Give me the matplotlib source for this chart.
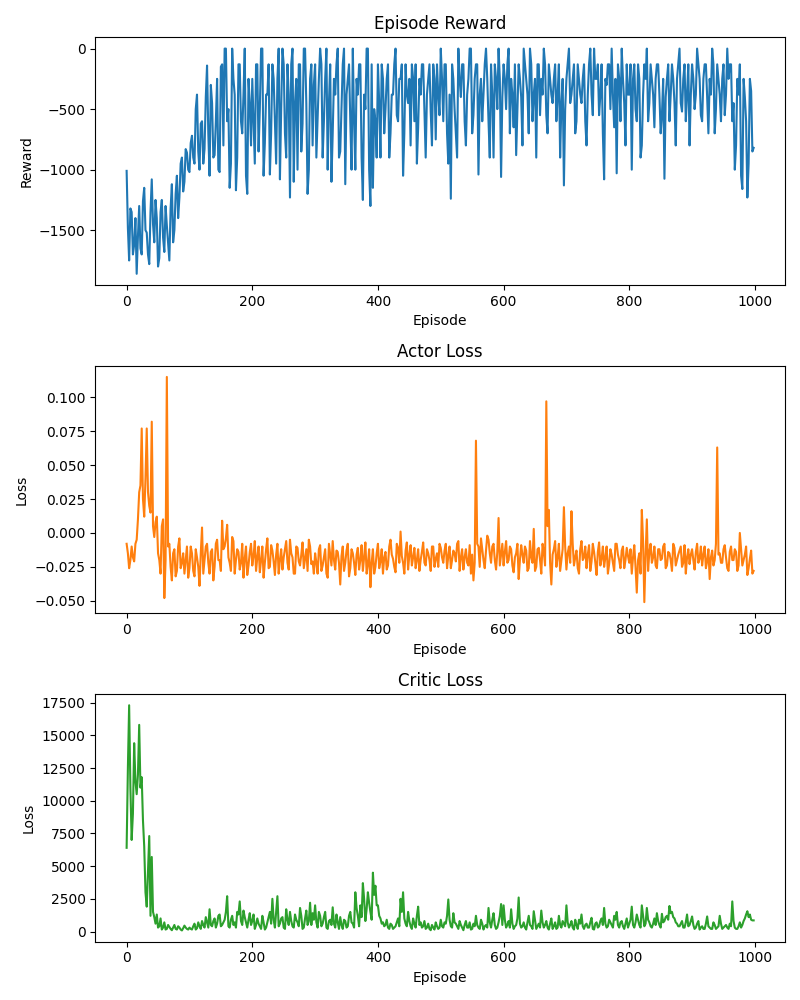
import numpy as np
import matplotlib
matplotlib.use("Agg")
import matplotlib.pyplot as plt

# values every 2 episodes:
# *_a lists hold episodes 0, 4, 8, ... and *_b lists hold episodes 2, 6, 10, ...
episodes = np.arange(0, 1000, 2)

rewards_a = [
    -1010, -1750, -1350, -1620, -1860, -1300, -1700, -1150, -1520, -1780, -1080, -1600, -1400,
    -1730, -1250, -1680, -1460, -1750, -1120, -1500, -1050, -1230, -900, -1100, -860,
    -1020, -720, -950, -380, -1000, -600, -830, -140, -1050, -450, -880, -250, -1020,
    -130, 0, -600, -1150, 0, -380, -900, -130, -700, 0, -1200, -450,
    -250, -950, -130, -500, 0, -780, -380, -1040, -130, -600, -250, -1080, 0,
    -700, -130, -1230, 0, -450, -1000, -130, -620, 0, -1200, -250, -800,
    -130, -560, 0, -900, -250, -1000, -130, -700, -380, 0, -850, -130, -1120,
    -250, -600, 0, -1000, -380, -130, -1250, -500, 0, -1300, -1150, -600,
    -130, -900, -250, -500, -130, -700, -380, 0, -600, -250, -1050, -130, -450,
    -800, -250, -130, -650, -380, -130, -900, -250, -520, -130, -750, -380,
    0, -600, -130, -950, -1240, -250, -700, 0, -400, -130, -800, -250, 0,
    -550, -130, -1040, -250, -380, 0, -600, -130, -900, -250, 0, -1060,
    -130, -500, 0, -250, -650, -880, -130, -400, 0, -250, -700, -130, -380,
    -900, -130, -250, 0, -550, -130, -380, -250, -600, -130, -450, -1130,
    -250, 0, -380, -130, -600, -250, -450, -130, -800, -130, -380, 0, -250,
    -550, -130, -1080, -300, -130, 0, -650, -1030, -250, 0, -450, -130,
    -380, -1000, -130, -600, -250, -800, -130, 0, -450, -250, -650, -130, -380,
    -550, -1075, -250, -600, -130, -450, -250, 0, -520, -130, -380, -800,
    -130, -500, 0, -250, -600, -130, -400, -250, 0, -700, -130, -380, -250,
    -550, 0, -130, -600, -1000, -250, -130, -1160, -400, -1230, -250, -850,
]
rewards_b = [
    -1480, -1320, -1700, -1400, -1550, -1650, -1260, -1500, -1700, -1350, -1450, -1250, -1800,
    -1350, -1560, -1300, -1600, -1320, -1600, -1200, -1400, -950, -1180, -830, -1000,
    -780, -900, -500, -850, -620, -950, -400, -700, -300, -900, -600, -1000, -150,
    -800, 0, -500, -950, -250, -1170, -130, -600, -380, -1050, -250, -800,
    -600, -130, -850, 0, -1050, -380, -130, -700, -250, -950, 0, -500, -130,
    -900, -380, -130, -1100, -250, -130, -850, 0, -450, -1000, -130, -300,
    -900, -250, -130, -600, 0, -450, -1100, -250, -130, -900, -500, 0, -380,
    -130, -1000, -600, -250, -130, -900, -380, 0, -1000, -130, -500, -900,
    -450, -130, -700, -250, -900, -380, -130, -550, -250, -130, -700, -380, -250,
    -130, -600, -950, -250, -130, -500, -380, -130, -800, -250, -130, -550,
    -250, -130, -700, -380, -130, -500, -900, -250, -130, -600, -380, 0, -700,
    -250, -130, -380, -600, -130, -250, -900, -380, -130, -500, -250, -400,
    -250, -130, -700, -380, -130, -500, -250, -800, -130, -380, 0, -600, -250,
    -130, -550, -380, -130, -700, -250, -450, -130, -380, -900, -250, -500,
    -130, -450, -250, -700, -130, -380, -250, -600, -380, 0, -550, -250, -130,
    -380, -700, -250, -130, -500, -380, -250, -130, -600, -250, -800, -380,
    -130, -250, -500, -130, -900, -380, -250, -600, -130, -380, -250, -130, -700,
    -250, -400, -130, -380, -250, -800, -130, -450, -250, -600, -130, -380,
    -250, -380, -130, -550, -250, -130, -700, -380, -130, -500, -250, -600, -130,
    -380, -250, -130, -450, -800, -380, -1050, -250, -600, -950, -350, -820,
]

actor_loss_a = [
    -0.008, -0.026, -0.010, -0.021, -0.005, 0.030, 0.077, 0.012, 0.077, 0.020, 0.082, -0.003, 0.012,
    -0.020, 0.005, -0.048, 0.115, -0.008, -0.035, -0.012, -0.028, -0.004, -0.022, -0.030, -0.010,
    -0.026, -0.015, -0.032, -0.018, -0.039, 0.004, -0.020, -0.008, -0.030, -0.012, -0.025, -0.005, -0.020,
    0.009, -0.010, 0.006, -0.022, -0.003, -0.030, -0.012, -0.027, -0.008, -0.019, -0.031, -0.014,
    -0.024, -0.006, -0.018, -0.029, -0.010, -0.022, -0.004, -0.025, -0.013, -0.031, -0.008, -0.020, -0.027,
    -0.012, -0.022, -0.005, -0.018, -0.030, -0.011, -0.024, -0.007, -0.019, -0.028, -0.010, -0.021,
    -0.015, -0.030, -0.009, -0.024, -0.012, -0.033, -0.016, -0.006, -0.027, -0.014, -0.038, -0.010, -0.022,
    -0.008, -0.026, -0.015, -0.031, -0.011, -0.020, -0.028, -0.007, -0.023, -0.040, -0.012, -0.025,
    -0.008, -0.021, -0.030, -0.014, -0.024, -0.005, -0.019, -0.029, -0.011, 0.001, -0.022, -0.013, -0.027,
    -0.009, -0.018, -0.026, -0.012, -0.020, -0.007, -0.024, -0.015, -0.028, -0.010, -0.019, -0.025,
    -0.011, -0.022, -0.008, -0.017, -0.026, -0.013, -0.021, -0.006, -0.018, -0.027, -0.012, -0.024, -0.030,
    -0.035, 0.068, -0.010, -0.004, -0.020, -0.013, -0.005, -0.022, -0.008, -0.027, 0.011, -0.016,
    -0.024, -0.006, -0.020, -0.012, -0.029, -0.015, -0.034, -0.009, -0.022, -0.013, -0.026, -0.018, 0.003,
    -0.025, -0.011, -0.030, -0.014, 0.097, 0.017, -0.038, -0.012, -0.025, -0.008, -0.020, 0.019,
    -0.027, -0.010, 0.016, -0.024, -0.013, -0.030, -0.006, -0.018, -0.026, -0.009, -0.021, -0.014, -0.031,
    -0.007, -0.019, -0.025, -0.010, -0.023, -0.016, -0.028, -0.008, -0.020, -0.013, -0.026, -0.011,
    -0.022, -0.030, -0.009, -0.044, -0.015, 0.017, -0.051, 0.010, -0.014, -0.022, -0.010, -0.026, -0.012,
    -0.019, -0.008, -0.024, -0.015, -0.028, -0.011, -0.020, -0.013, -0.025, -0.009, -0.018, -0.023,
    -0.012, -0.027, -0.008, -0.019, -0.024, -0.010, -0.021, -0.034, -0.013, -0.020, 0.063, -0.015, -0.022,
    -0.009, -0.026, -0.014, -0.020, -0.012, -0.028, 0.000, -0.024, -0.016, -0.031, -0.019, -0.030,
]
actor_loss_b = [
    -0.015, -0.020, -0.018, -0.008, 0.010, 0.035, 0.025, 0.040, 0.030, 0.015, 0.005, 0.008, -0.015,
    -0.030, 0.010, -0.020, -0.010, -0.025, -0.015, -0.032, -0.010, -0.026, -0.015, -0.020, -0.033,
    -0.010, -0.028, -0.012, -0.025, -0.015, -0.030, -0.010, -0.022, -0.014, -0.035, -0.008, -0.020, -0.028,
    -0.012, -0.004, -0.018, -0.028, -0.006, -0.020, -0.014, -0.022, -0.033, -0.010, -0.024, -0.008,
    -0.017, -0.028, -0.010, -0.020, -0.033, -0.012, -0.026, -0.009, -0.021, -0.016, -0.030, -0.012, -0.018,
    -0.006, -0.027, -0.015, -0.030, -0.010, -0.021, -0.016, -0.026, -0.012, -0.005, -0.023, -0.030,
    -0.022, -0.012, -0.028, -0.018, -0.030, -0.008, -0.024, -0.020, -0.013, -0.022, -0.017, -0.028, -0.013,
    -0.032, -0.012, -0.022, -0.016, -0.027, -0.009, -0.018, -0.030, -0.012, -0.022, -0.030, -0.015,
    -0.026, -0.012, -0.018, -0.027, -0.010, -0.016, -0.025, -0.008, -0.022, -0.017, -0.030, -0.007, -0.016,
    -0.024, -0.011, -0.020, -0.028, -0.014, -0.022, -0.012, -0.020, -0.010, -0.025, -0.015, -0.008,
    -0.018, -0.013, -0.026, -0.010, -0.020, -0.015, -0.008, -0.028, -0.012, -0.018, -0.022, -0.009, -0.016,
    -0.022, -0.008, -0.025, -0.012, -0.026, -0.002, -0.015, -0.010, -0.020, -0.014, -0.024, -0.008,
    -0.014, -0.022, -0.010, -0.024, -0.018, -0.008, -0.020, -0.016, -0.010, -0.028, -0.006, -0.022, -0.028,
    -0.012, -0.020, -0.008, -0.024, 0.005, -0.022, -0.016, -0.006, -0.018, -0.028, -0.012, -0.010,
    -0.015, -0.022, -0.008, -0.018, -0.026, -0.012, -0.020, -0.010, -0.016, -0.028, -0.008, -0.022, -0.014,
    -0.024, -0.010, -0.018, -0.030, -0.012, -0.022, -0.008, -0.016, -0.026, -0.010, -0.020, -0.017,
    -0.012, -0.018, -0.025, -0.020, -0.030, -0.006, -0.016, -0.028, -0.008, -0.018, -0.024, -0.012, -0.020,
    -0.010, -0.026, -0.014, -0.020, -0.008, -0.024, -0.016, -0.010, -0.022, -0.030, -0.012, -0.016,
    -0.020, -0.014, -0.022, -0.010, -0.016, -0.026, -0.012, -0.018, -0.024, -0.008, -0.016, -0.022, -0.012,
    -0.018, -0.028, -0.010, -0.020, -0.014, -0.024, -0.012, -0.020, -0.010, -0.026, -0.013, -0.028,
]

critic_loss_a = [
    6400, 17300, 7000, 14400, 10500, 15800, 11800, 6500, 1900, 7300, 5700, 1100, 1300,
    400, 150, 700, 200, 350, 100, 500, 150, 300, 80, 450, 200,
    300, 150, 600, 250, 400, 800, 300, 700, 1700, 400, 1000, 600, 1300,
    500, 900, 2700, 300, 1200, 700, 1500, 2300, 500, 1100, 300, 1400,
    800, 200, 1000, 400, 1200, 150, 700, 1500, 2500, 300, 2700, 600, 1100,
    200, 900, 1500, 400, 1300, 700, 1800, 200, 1000, 500, 2200, 1400,
    2000, 300, 1200, 600, 1500, 200, 900, 1850, 300, 700, 1100, 200, 800,
    400, 1500, 600, 3000, 1200, 2000, 3700, 800, 3000, 1500, 4500, 3500,
    2000, 1000, 700, 500, 300, 600, 200, 400, 1000, 2500, 3000, 600, 1500,
    400, 1000, 300, 1900, 700, 400, 200, 600, 100, 300, 700, 200,
    900, 300, 600, 2450, 400, 1400, 600, 200, 500, 100, 800, 300, 150,
    600, 1200, 300, 900, 150, 500, 1800, 300, 1400, 200, 700, 2100,
    2000, 300, 800, 1700, 200, 500, 2600, 300, 700, 150, 1200, 400, 1550,
    200, 600, 1600, 300, 800, 150, 1000, 400, 200, 1200, 300, 600,
    2000, 300, 800, 150, 500, 900, 1300, 200, 600, 300, 1050, 150, 700,
    400, 1000, 1800, 300, 900, 500, 1200, 1500, 300, 800, 200, 1000,
    600, 1900, 300, 1300, 500, 2000, 400, 1800, 700, 300, 1000, 1400, 500,
    1350, 800, 1200, 1950, 1500, 1000, 600, 400, 800, 300, 1300, 500,
    1150, 200, 600, 150, 400, 200, 1150, 300, 200, 500, 300, 1200, 200,
    400, 300, 600, 2300, 300, 200, 700, 500, 1000, 1550, 1300, 850,
]
critic_loss_b = [
    12500, 11000, 9000, 11500, 12000, 11000, 8500, 3000, 4500, 1200, 1500, 600, 300,
    1000, 300, 150, 500, 200, 300, 200, 400, 150, 250, 300, 150,
    200, 400, 150, 700, 200, 500, 1100, 300, 500, 800, 300, 1200, 400,
    700, 1500, 400, 900, 500, 300, 1300, 800, 1600, 700, 900, 500,
    1300, 500, 600, 200, 700, 300, 1100, 600, 900, 1500, 400, 1000, 300,
    1700, 500, 800, 300, 900, 400, 1200, 300, 1600, 800, 500, 900,
    700, 1500, 400, 1100, 300, 800, 500, 600, 1300, 200, 500, 900, 300,
    1200, 700, 300, 1800, 400, 1100, 2500, 1700, 2200, 900, 2800, 2000,
    1200, 600, 400, 900, 200, 500, 300, 700, 400, 1500, 1000, 400, 800,
    200, 600, 1200, 500, 300, 800, 300, 200, 500, 150, 400, 300,
    400, 700, 1200, 900, 300, 700, 400, 800, 300, 500, 300, 700, 200,
    400, 500, 200, 600, 400, 300, 700, 900, 500, 300, 1200, 500,
    900, 500, 300, 600, 400, 1000, 600, 400, 300, 700, 500, 200, 900,
    400, 300, 700, 500, 300, 600, 200, 700, 300, 500, 800, 400,
    700, 500, 300, 900, 200, 600, 400, 500, 300, 700, 200, 600, 300,
    800, 500, 600, 400, 700, 300, 900, 500, 700, 400, 600, 300,
    900, 500, 700, 900, 300, 1200, 600, 900, 400, 600, 500, 800, 300,
    700, 1100, 900, 1400, 1100, 700, 400, 600, 300, 700, 400, 800,
    500, 300, 800, 300, 200, 600, 400, 200, 700, 200, 400, 600, 300,
    500, 200, 400, 800, 200, 400, 300, 800, 1300, 1100, 900, 850,
]


def merge(first, second):
    return np.column_stack([first, second]).ravel()


rewards = merge(rewards_a, rewards_b)
actor_loss = merge(actor_loss_a, actor_loss_b)
critic_loss = merge(critic_loss_a, critic_loss_b)

fig, axes = plt.subplots(3, 1, figsize=(8, 10))

axes[0].plot(episodes, rewards, color="C0")
axes[0].set_title("Episode Reward")
axes[0].set_xlabel("Episode")
axes[0].set_ylabel("Reward")

axes[1].plot(episodes, actor_loss, color="C1")
axes[1].set_title("Actor Loss")
axes[1].set_xlabel("Episode")
axes[1].set_ylabel("Loss")

axes[2].plot(episodes, critic_loss, color="C2")
axes[2].set_title("Critic Loss")
axes[2].set_xlabel("Episode")
axes[2].set_ylabel("Loss")

plt.tight_layout()
plt.savefig("out.png", dpi=100)
